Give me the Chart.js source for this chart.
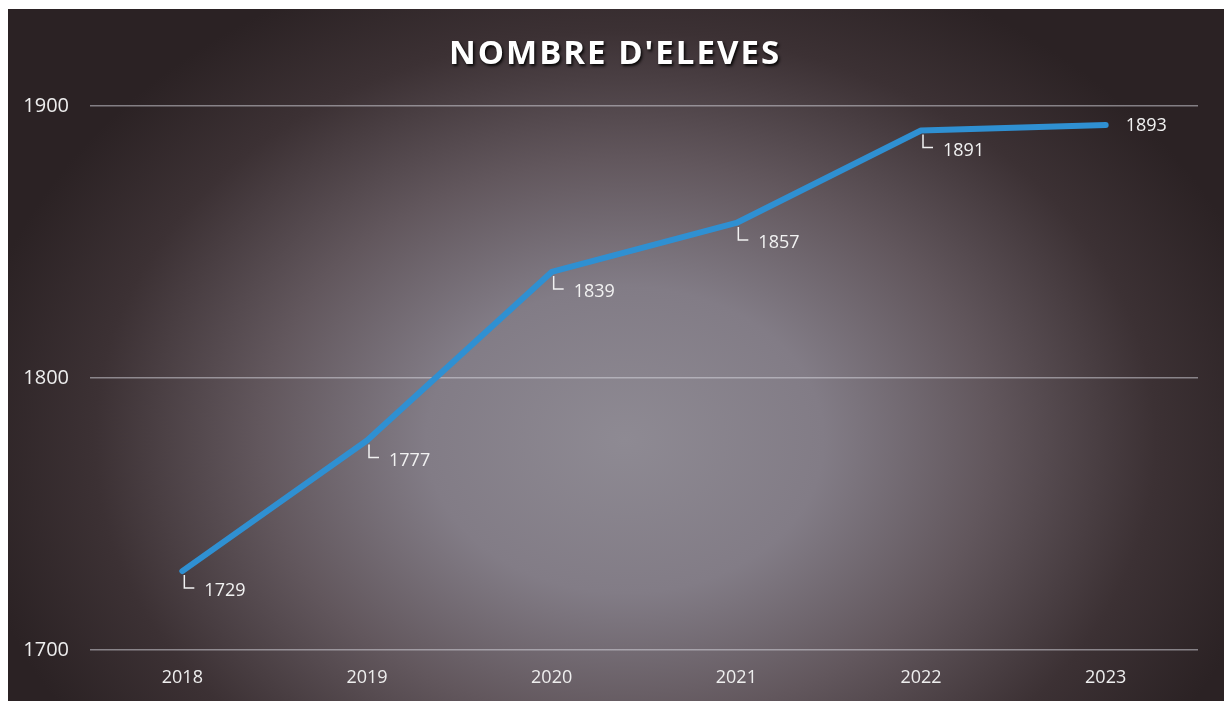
<!DOCTYPE html>
<html>
<head>
<meta charset="utf-8">
<script src="https://cdn.jsdelivr.net/npm/chart.js@4"></script>
<style>
html,body{margin:0;padding:0;background:#ffffff;}
#wrap{width:1224px;height:701px;position:relative;}
</style>
</head>
<body>
<div id="wrap"><canvas id="c" width="1224" height="701"></canvas></div>
<script>
const titleText = "NOMBRE D'ELEVES";
const categories = ["2018", "2019", "2020", "2021", "2022", "2023"];
const eleves = [1729, 1777, 1839, 1857, 1891, 1893];
const yTicks = [1700, 1800, 1900];
const labelSides = ["leader", "leader", "leader", "leader", "leader", "right"];

const bgPlugin = {
  id: 'bg',
  beforeDraw(chart) {
    const ctx = chart.ctx;
    const W = chart.width, H = chart.height;
    ctx.save();
    ctx.fillStyle = '#ffffff';
    ctx.fillRect(0, 0, W, H);
    ctx.beginPath();
    ctx.rect(8, 9, W - 8, H - 9);
    ctx.clip();
    ctx.fillStyle = '#2b2224';
    ctx.fillRect(0, 0, W, H);
    ctx.translate(625, 440);
    ctx.scale(1.3, 1);
    const g = ctx.createRadialGradient(0, 0, 0, 0, 0, 510);
    g.addColorStop(0, '#8e8a93');
    g.addColorStop(0.3, '#827c86');
    g.addColorStop(0.55, '#62575d');
    g.addColorStop(0.8, '#3c3134');
    g.addColorStop(1, '#2b2224');
    ctx.fillStyle = g;
    ctx.fillRect(-700, -600, 1400, 1200);
    ctx.restore();
  }
};

const titlePlugin = {
  id: 'customTitle',
  afterDraw(chart) {
    const ctx = chart.ctx;
    ctx.save();
    ctx.font = 'bold 33px "Open Sans", sans-serif';
    try { ctx.letterSpacing = '2px'; } catch (e) {}
    ctx.textAlign = 'center';
    ctx.textBaseline = 'middle';
    ctx.shadowColor = 'rgba(0,0,0,0.9)';
    ctx.shadowBlur = 3;
    ctx.shadowOffsetX = 1.5;
    ctx.shadowOffsetY = 1.5;
    ctx.fillStyle = '#ffffff';
    ctx.fillText(titleText, 615, 55);
    ctx.restore();
  }
};

const labelPlugin = {
  id: 'pointLabels',
  afterDatasetsDraw(chart) {
    const ctx = chart.ctx;
    const meta = chart.getDatasetMeta(0);
    ctx.save();
    ctx.font = '18px "Open Sans", sans-serif';
    ctx.fillStyle = '#f2f2f2';
    ctx.strokeStyle = '#f2f2f2';
    ctx.lineWidth = 1.5;
    ctx.textBaseline = 'middle';
    ctx.textAlign = 'left';
    meta.data.forEach((pt, i) => {
      const x = pt.x, y = pt.y;
      const txt = String(eleves[i]);
      if (labelSides[i] === 'right') {
        ctx.fillText(txt, x + 20, y + 1);
      } else {
        ctx.beginPath();
        ctx.moveTo(x + 2, y + 4);
        ctx.lineTo(x + 2, y + 17);
        ctx.lineTo(x + 12, y + 17);
        ctx.stroke();
        ctx.fillText(txt, x + 22, y + 20);
      }
    });
    ctx.restore();
  }
};

new Chart(document.getElementById('c'), {
  type: 'line',
  data: {
    labels: categories,
    datasets: [{
      data: eleves,
      borderColor: '#2f90d2',
      borderWidth: 6,
      pointRadius: 0,
      tension: 0,
      fill: false,
      borderCapStyle: 'round',
      borderJoinStyle: 'round'
    }]
  },
  options: {
    responsive: false,
    animation: false,
    layout: { padding: { left: 8, right: 26, top: 106, bottom: 0 } },
    plugins: { legend: { display: false }, title: { display: false }, tooltip: { enabled: false } },
    scales: {
      x: {
        offset: true,
        grid: { display: false, drawTicks: false },
        border: { display: false },
        ticks: { color: '#eeeeee', font: { family: 'Open Sans', size: 18 }, padding: 17, maxRotation: 0 },
        afterFit(s) { s.height = 51; }
      },
      y: {
        min: 1700, max: 1900,
        afterBuildTicks(s) { s.ticks = yTicks.map(v => ({ value: v })); },
        grid: { color: 'rgba(220,220,228,0.5)', lineWidth: 1.5, drawTicks: false },
        border: { display: false },
        ticks: { color: '#eeeeee', font: { family: 'Open Sans', size: 20 }, padding: 21, callback: v => String(v) },
        afterFit(s) { s.width = 82; }
      }
    }
  },
  plugins: [bgPlugin, titlePlugin, labelPlugin]
});
</script>
</body>
</html>
